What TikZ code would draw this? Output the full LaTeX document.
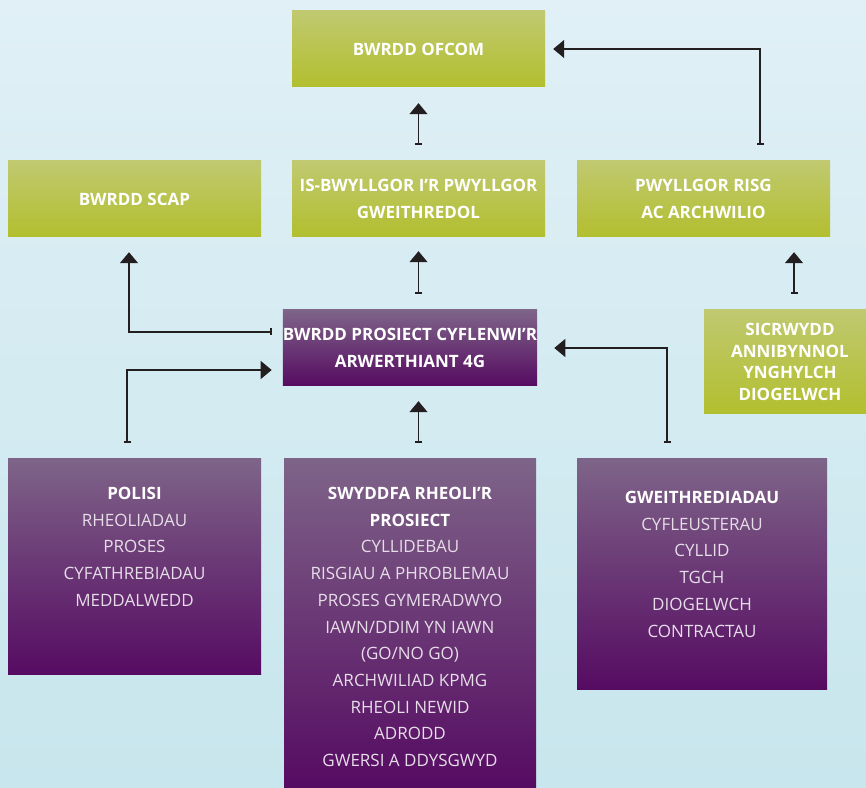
\documentclass[tikz,border=0pt]{standalone}
\usepackage{fontspec}
\setmainfont{Open Sans}
\usetikzlibrary{arrows.meta,calc}
\definecolor{bgtop}{HTML}{E0F0F6}
\definecolor{bgbot}{HTML}{C8E6ED}
\definecolor{gtop}{HTML}{C0C970}
\definecolor{gbot}{HTML}{B2BF2E}
\definecolor{ptop}{HTML}{7E6488}
\definecolor{pbot}{HTML}{560B62}
\definecolor{linecol}{HTML}{231F20}
\definecolor{listcol}{HTML}{E6DDE8}
\begin{document}
\begin{tikzpicture}[x=1pt,y=1pt,
  greenbox/.style={rectangle, top color=gtop, bottom color=gbot, inner sep=0pt,
    minimum width=253pt, minimum height=76pt, text=white,
    font=\fontsize{17}{27}\selectfont\bfseries, align=center},
  purplebox/.style={rectangle, top color=ptop, bottom color=pbot, inner sep=0pt},
  listtext/.style={anchor=north, align=center, text=listcol, inner sep=0pt,
    font=\fontsize{17}{26.7}\selectfont},
  conn/.style={draw=linecol, line width=1.3pt,
    {Bar[width=7pt]}-{Triangle[width=18pt,length=11pt]}}
]
\useasboundingbox (0,0) rectangle (866,787);
\shade[top color=bgtop, bottom color=bgbot] (0,0) rectangle (866,787);

% green boxes
\node[greenbox] (ofcom) at (418.5,738) {BWRDD OFCOM};
\node[greenbox] (scap) at (134.5,588) {BWRDD SCAP};
\node[greenbox] (isb) at (418.5,588) {IS-BWYLLGOR I’R PWYLLGOR\\GWEITHREDOL};
\node[greenbox] (risg) at (703.5,588) {PWYLLGOR RISG\\AC ARCHWILIO};
\node[greenbox, minimum width=172pt, minimum height=104pt,
  font=\fontsize{17}{21.7}\selectfont\bfseries] (sicr) at (790,425)
  {SICRWYDD\\ANNIBYNNOL\\YNGHYLCH\\DIOGELWCH};

% purple boxes
\node[purplebox, minimum width=252pt, minimum height=76pt, text=white, align=center,
  font=\fontsize{17}{27}\selectfont\bfseries] (bwrdd) at (410,439)
  {BWRDD PROSIECT CYFLENWI’R\\ARWERTHIANT 4G};
\node[purplebox, minimum width=253pt, minimum height=215pt] (polisi) at (134.5,220.5) {};
\node[purplebox, minimum width=252pt, minimum height=328pt] (swyddfa) at (410,164) {};
\node[purplebox, minimum width=250pt, minimum height=230pt] (gweith) at (702,213) {};

\node[listtext] (polisitxt) at (134.5,300)
  {{\bfseries\color{white}POLISI}\\RHEOLIADAU\\PROSES\\CYFATHREBIADAU\\MEDDALWEDD};
\node[listtext] (swyddfatxt) at (410,300)
  {{\bfseries\color{white}SWYDDFA RHEOLI’R}\\{\bfseries\color{white}PROSIECT}\\CYLLIDEBAU\\RISGIAU A PHROBLEMAU\\PROSES GYMERADWYO\\IAWN/DDIM YN IAWN\\(GO/NO GO)\\ARCHWILIAD KPMG\\RHEOLI NEWID\\ADRODD\\GWERSI A DDYSGWYD};
\node[listtext] (gweithtxt) at (702,296)
  {{\bfseries\color{white}GWEITHREDIADAU}\\CYFLEUSTERAU\\CYLLID\\TGCH\\DIOGELWCH\\CONTRACTAU};

% connectors
\draw[conn, shorten <=16pt, shorten >=16pt] (isb) -- (ofcom);
\draw[conn, shorten <=16pt, shorten >=8pt] ([xshift=56.5pt]risg.north) |- (ofcom.east);
\draw[conn, shorten <=16pt, shorten >=14pt] (bwrdd.north -| isb.south) -- (isb.south);
\draw[conn, shorten <=11pt, shorten >=15pt] ([yshift=16pt]bwrdd.west) -| ([xshift=-5.5pt]scap.south);
\draw[conn, shorten <=16pt, shorten >=11pt] ([xshift=-7.5pt]polisi.north) |- ([yshift=-22pt]bwrdd.west);
\draw[conn, shorten <=16pt, shorten >=15pt] (swyddfa.north -| isb.south) -- (bwrdd.south -| isb.south);
\draw[conn, shorten <=16pt, shorten >=17pt] ([xshift=-35pt]gweith.north) |- (bwrdd.east);
\draw[conn, shorten <=16pt, shorten >=15pt] ([xshift=4pt]sicr.north) -- ([xshift=4pt]sicr.north |- risg.south);
\end{tikzpicture}
\end{document}
